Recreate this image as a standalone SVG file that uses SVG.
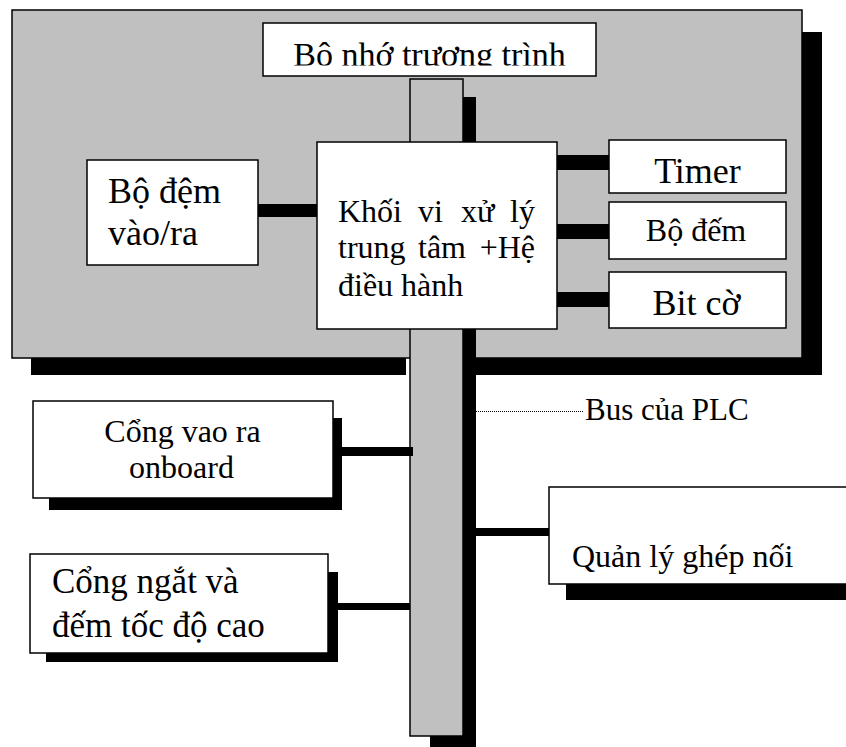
<svg xmlns="http://www.w3.org/2000/svg" width="846" height="747" viewBox="0 0 846 747">
  <style>
    .box { fill: #ffffff; stroke: #000000; stroke-width: 1.5; }
    .panel { fill: #c0c0c0; stroke: #000000; stroke-width: 1.5; }
    .shadow { fill: #000000; }
    .link { fill: #000000; }
    text { font-family: "Liberation Serif", "Times New Roman", serif; fill: #000000; }
  </style>
  <defs>
    <clipPath id="memClip">
      <rect x="263" y="23" width="333" height="42.5"/>
    </clipPath>
  </defs>
  <rect width="846" height="747" fill="#ffffff"/>

  <!-- CPU board with drop shadow -->
  <g id="board">
    <rect class="shadow" x="802" y="32" width="20" height="343"/>
    <rect class="shadow" x="31" y="358" width="375" height="17"/>
    <rect class="shadow" x="463" y="358" width="359" height="17"/>
    <rect class="panel" x="12" y="10" width="790" height="348"/>
  </g>

  <!-- PLC bus -->
  <g id="bus">
    <rect class="shadow" x="430" y="97" width="46" height="660"/>
    <rect class="panel" x="410" y="79" width="53" height="657"/>
  </g>

  <g id="connectors">
    <rect class="link" x="258" y="204" width="59" height="13"/>
    <rect class="link" x="557" y="155" width="52" height="15"/>
    <rect class="link" x="555" y="224" width="54" height="15"/>
    <rect class="link" x="557" y="292" width="52" height="15"/>
    <rect class="link" x="342" y="447" width="71" height="9"/>
    <rect class="link" x="338" y="603" width="72" height="7"/>
    <rect class="link" x="476" y="528" width="73" height="8"/>
    <line x1="476" y1="411.5" x2="584" y2="411.5" stroke="#000000" stroke-width="1.2" stroke-dasharray="1 1" shape-rendering="crispEdges"/>
  </g>

  <g id="program-memory">
    <rect class="box" x="263" y="23" width="333" height="53"/>
    <text x="429.5" y="66" font-size="34" text-anchor="middle" clip-path="url(#memClip)">Bô nhớ trương trình</text>
  </g>

  <g id="cpu">
    <rect class="box" x="317" y="142" width="240" height="187"/>
    <g font-size="32">
      <text x="338" y="222">Khối</text>
      <text x="418" y="222">vi</text>
      <text x="461" y="222">xử</text>
      <text x="535" y="222" text-anchor="end">lý</text>
      <text x="338" y="258">trung</text>
      <text x="418" y="258">tâm</text>
      <text x="535" y="258" text-anchor="end">+Hệ</text>
      <text x="338" y="296">điều hành</text>
    </g>
  </g>

  <g id="io-buffer">
    <rect class="box" x="87" y="160" width="171" height="105"/>
    <text x="108" y="203" font-size="36">Bộ đệm</text>
    <text x="108" y="245" font-size="36">vào/ra</text>
  </g>

  <g id="timer">
    <rect class="box" x="609" y="140" width="177" height="53"/>
    <text x="697.5" y="183" font-size="36" text-anchor="middle">Timer</text>
  </g>

  <g id="counter">
    <rect class="box" x="609" y="202" width="177" height="57"/>
    <text x="696" y="241" font-size="32" text-anchor="middle">Bộ đếm</text>
  </g>

  <g id="flags">
    <rect class="box" x="609" y="272" width="177" height="56"/>
    <text x="696.5" y="315" font-size="36" text-anchor="middle">Bit cờ</text>
  </g>

  <g id="bus-label">
    <text x="585" y="420" font-size="31">Bus của PLC</text>
  </g>

  <g id="onboard-io">
    <rect class="shadow" x="49" y="418" width="293" height="92"/>
    <rect class="box" x="33" y="401" width="300" height="97"/>
    <text x="182.5" y="442" font-size="32" text-anchor="middle">Cổng vao ra</text>
    <text x="181.5" y="478" font-size="32" text-anchor="middle">onboard</text>
  </g>

  <g id="interrupt-counter">
    <rect class="shadow" x="46" y="572" width="292" height="90"/>
    <rect class="box" x="30" y="554" width="298" height="99"/>
    <text x="52" y="593" font-size="35">Cổng ngắt và</text>
    <text x="52" y="637" font-size="35">đếm tốc độ cao</text>
  </g>

  <g id="interface-manager">
    <rect class="shadow" x="566" y="504" width="300" height="96"/>
    <rect class="box" x="549" y="487" width="310" height="97"/>
    <text x="572" y="567" font-size="32">Quản lý ghép nối</text>
  </g>
</svg>
